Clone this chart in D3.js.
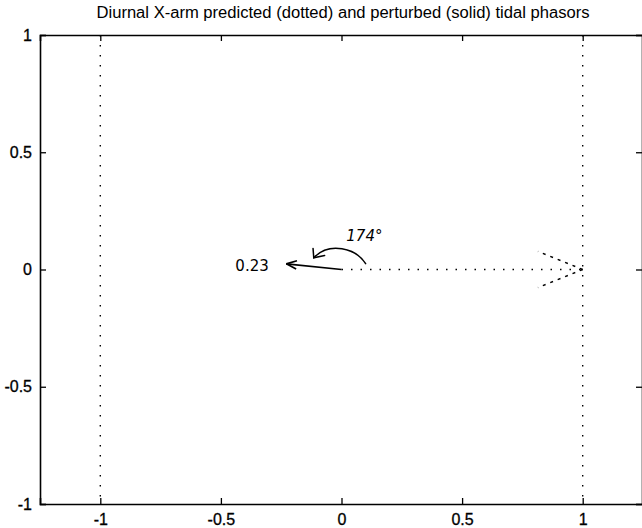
<!DOCTYPE html>
<html>
<head>
<meta charset="utf-8">
<script src="https://cdn.jsdelivr.net/npm/d3@7"></script>
<style>
  body { margin: 0; background: #fff; }
  svg { display: block; font-family: "Liberation Sans", Arial, sans-serif; }
</style>
</head>
<body>
<svg id="chart" width="642" height="528"></svg>
<script>
// data
var xTicks = [-1, -0.5, 0, 0.5, 1];
var yTicks = [-1, -0.5, 0, 0.5, 1];
var xTickLabels = ["-1", "-0.5", "0", "0.5", "1"];
var yTickLabels = ["-1", "-0.5", "0", "0.5", "1"];
var guideX = [-1, 1];
var phasorNames = ["predicted", "perturbed"];
var amplitudes = [1, 0.23];
var phasesDeg = [0, 174];
var ampLabel = "0.23";
var phaseLabel = "174";

var svg = d3.select('#chart');
var x = d3.scaleLinear().domain([-1.25, 1.25]).range([40, 643]);
var y = d3.scaleLinear().domain([-1, 1]).range([504, 35]);

var frame = svg.append('g');

// guide lines at x = +-1
frame.selectAll('.guide')
  .data(guideX)
  .enter().append('line')
  .attr('x1', function(d) { return x(d); })
  .attr('x2', function(d) { return x(d); })
  .attr('y1', y(1)).attr('y2', y(-1))
  .attr('stroke', '#000').attr('stroke-width', 1.4)
  .attr('stroke-dasharray', '1.5,8.5');

// axes (MATLAB style, ticks inward on all four sides)
var tk = 6;
svg.append('g').attr('transform', 'translate(0,' + y(-1) + ')')
  .call(d3.axisBottom(x).tickValues(xTicks).tickSize(-tk).tickPadding(10)
    .tickFormat(function(d, i) { return xTickLabels[i]; }));
svg.append('g').attr('transform', 'translate(0,' + y(1) + ')')
  .call(d3.axisTop(x).tickValues(xTicks).tickSize(-tk).tickFormat(''));
svg.append('g').attr('transform', 'translate(' + x(-1.25) + ',0)')
  .call(d3.axisLeft(y).tickValues(yTicks).tickSize(-tk).tickPadding(8)
    .tickFormat(function(d, i) { return yTickLabels[i]; }));
svg.append('g').attr('transform', 'translate(' + (x(1.25) - 1) + ',0)')
  .call(d3.axisRight(y).tickValues(yTicks).tickSize(-tk).tickFormat(''));

svg.selectAll('.domain').attr('stroke', '#000').attr('stroke-width', 1.6);
svg.selectAll('.tick line').attr('stroke', '#000').attr('stroke-width', 1.3);
svg.selectAll('.tick text').attr('font-size', 16).attr('fill', '#000')
  .attr('stroke', '#000').attr('stroke-width', 0.3)
  .attr('font-family', '"Liberation Sans", Arial, sans-serif');

// phasors
var phasors = phasorNames.map(function(n, i) {
  var a = phasesDeg[i] * Math.PI / 180;
  return { name: n, x: amplitudes[i] * Math.cos(a), y: amplitudes[i] * Math.sin(a) };
});

phasors.forEach(function(p) {
  var dotted = p.name === 'predicted';
  var x0 = x(0), y0 = y(0), x1 = x(p.x), y1 = y(p.y);
  var g = svg.append('g');
  g.append('line')
    .attr('x1', x0).attr('y1', y0).attr('x2', x1).attr('y2', y1)
    .attr('stroke', '#000').attr('stroke-width', dotted ? 1.5 : 1.7)
    .attr('stroke-dasharray', dotted ? '1.5,8' : null);
  // arrow head: 0.2 of length, +-22 degrees
  var ang = Math.atan2(y1 - y0, x1 - x0);
  var len = Math.sqrt((x1 - x0) * (x1 - x0) + (y1 - y0) * (y1 - y0)) * 0.2;
  [-1, 1].forEach(function(s) {
    var b = ang + Math.PI + s * 22 * Math.PI / 180;
    g.append('line')
      .attr('x1', x1).attr('y1', y1)
      .attr('x2', x1 + len * Math.cos(b)).attr('y2', y1 + len * Math.sin(b))
      .attr('stroke', '#000').attr('stroke-width', dotted ? 1.4 : 1.7)
      .attr('stroke-dasharray', dotted ? '3,5' : null);
  });
});

// hand written notes
var note = svg.append('g').attr('fill', 'none').attr('stroke', '#000')
  .attr('stroke-width', 1.5).attr('stroke-linecap', 'round');
note.append('path')
  .attr('d', 'M' + x(0.1) + ',' + y(0.025) +
    ' C' + x(0.06) + ',' + y(0.09) + ' ' + x(-0.05) + ',' + y(0.12) + ' ' + x(-0.115) + ',' + y(0.05));
note.append('path')
  .attr('d', 'M' + x(-0.118) + ',' + y(0.09) + ' L' + x(-0.115) + ',' + y(0.05) +
    ' L' + x(-0.07) + ',' + y(0.06));

svg.append('text')
  .attr('x', x(-0.44)).attr('y', y(-0.005))
  .attr('font-family', '"DejaVu Sans", sans-serif').attr('font-size', 15)
  .attr('fill', '#000')
  .text(ampLabel);
svg.append('text')
  .attr('x', x(0.02)).attr('y', y(0.12))
  .attr('font-family', '"DejaVu Sans", sans-serif').attr('font-size', 15)
  .attr('font-style', 'italic').attr('fill', '#000')
  .text(phaseLabel + '\u00b0');

// title
svg.append('text')
  .attr('x', 343).attr('y', 18)
  .attr('text-anchor', 'middle')
  .attr('font-size', 16).attr('fill', '#000')
  .attr('textLength', 493).attr('lengthAdjust', 'spacingAndGlyphs')
  .text('Diurnal X-arm predicted (dotted) and perturbed (solid) tidal phasors');
</script>
</body>
</html>
